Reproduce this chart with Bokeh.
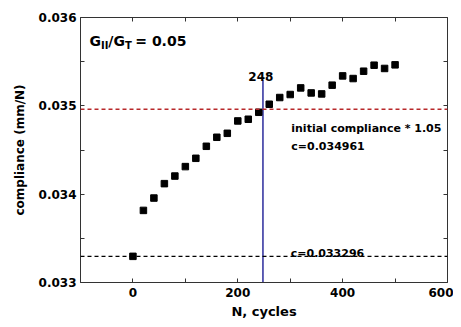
from bokeh.plotting import figure
from bokeh.models import (Range1d, FixedTicker, LinearAxis, Label, NumeralTickFormatter,
                          Span, ColumnDataSource)
from bokeh.embed import file_html
from bokeh.resources import INLINE

# ---- data ----
cycles = [0, 20, 40, 60, 80, 100, 120, 140, 160, 180, 200, 220, 240,
          260, 280, 300, 320, 340, 360, 380, 400, 420, 440, 460, 480, 500]
compliance = [0.033296, 0.033816, 0.033956, 0.034119, 0.034205, 0.034312,
              0.034406, 0.034542, 0.034644, 0.034689, 0.034829, 0.034848,
              0.034927, 0.035018, 0.035094, 0.035128, 0.035203, 0.035146,
              0.035135, 0.035234, 0.035339, 0.035309, 0.035392, 0.035460,
              0.035423, 0.035464]
initial_c = 0.033296
threshold_c = 0.034961
crossing_n = 248
crossing_top = 0.03529

x_ticks = [0, 200, 400, 600]
x_minor = [-100, 100, 300, 500]
y_ticks = [0.033, 0.034, 0.035, 0.036]
y_minor = [0.0335, 0.0345, 0.0355]

FONT = "DejaVu Sans"

p = figure(frame_width=367, frame_height=265, output_backend="svg",
           toolbar_location=None, x_range=Range1d(-100, 600),
           y_range=Range1d(0.033, 0.036),
           min_border_left=80, min_border_right=6, min_border_top=17,
           min_border_bottom=37, background_fill_color="white",
           border_fill_color="white")
p.outline_line_color = None
p.grid.visible = False

def style_axis(ax):
    ax.axis_line_color = "#333333"
    ax.axis_line_width = 1
    ax.major_tick_in = 4
    ax.major_tick_out = 0
    ax.minor_tick_in = 4
    ax.minor_tick_out = 0
    ax.major_tick_line_color = "#333333"
    ax.minor_tick_line_color = "#333333"
    ax.major_label_text_font = FONT
    ax.major_label_text_font_style = "bold"
    ax.major_label_text_font_size = "12px"
    ax.major_label_text_color = "black"
    ax.axis_label_text_font = FONT
    ax.axis_label_text_font_style = "bold"
    ax.axis_label_text_color = "black"

xa = p.xaxis[0]
xa.ticker = FixedTicker(ticks=x_ticks, minor_ticks=x_minor)
style_axis(xa)
xa.axis_label = "N, cycles"
xa.axis_label_text_font_size = "13px"
xa.major_label_standoff = 5
xa.axis_label_standoff = 4

ya = p.yaxis[0]
ya.ticker = FixedTicker(ticks=y_ticks, minor_ticks=y_minor)
ya.formatter = NumeralTickFormatter(format="0.000")
style_axis(ya)
ya.axis_label = "compliance (mm/N)"
ya.axis_label_text_font_size = "12px"
ya.major_label_standoff = 4
ya.axis_label_standoff = 9

top = LinearAxis(ticker=FixedTicker(ticks=[], minor_ticks=x_ticks + x_minor))
style_axis(top)
p.add_layout(top, "above")
right = LinearAxis(ticker=FixedTicker(ticks=[], minor_ticks=y_ticks + y_minor))
style_axis(right)
p.add_layout(right, "right")

# reference lines
p.add_layout(Span(location=threshold_c, dimension="width", line_color="#b8282a",
                  line_dash="4 3", line_width=1.5))
p.add_layout(Span(location=initial_c, dimension="width", line_color="black",
                  line_dash="4 3", line_width=1.3))
p.segment(x0=[crossing_n], y0=[0.033], x1=[crossing_n], y1=[crossing_top],
          line_color="#2b2b9c", line_width=1.5)

src = ColumnDataSource(dict(n=cycles, c=compliance))
p.scatter("n", "c", source=src, marker="square", size=6.5, fill_color="black",
          line_color="black")

def lab(x, y, text, size, align="left"):
    p.add_layout(Label(x=x, y=y, text=text, text_font=FONT, text_font_style="bold",
                       text_font_size=size, text_color="black", text_align=align,
                       text_baseline="alphabetic"))

lab(crossing_n - 4, 0.035336, str(crossing_n), "12px", "center")
lab(302, 0.034746, "initial compliance * 1.05", "11px")
lab(302, 0.034545, "c=%.6f" % threshold_c, "11px")
lab(301, 0.033325, "c=%.6f" % initial_c, "11px")

# G_II/G_T = 0.05 with subscripts
gx = -83
gy = 0.035732
sub_dy = -0.00005
pieces = [("G", 14, 0.0), ("II", 10, sub_dy), ("/G", 14, 0.0), ("T", 10, sub_dy),
          ("= 0.05", 14, 0.0)]
widths_em = {"G": 0.821, "II": 0.744, "/G": 1.186, "T": 0.682 + 0.35}
xscale = 700 / 367.0  # data units per px
cx = gx
for t, fs, dy in pieces:
    lab(cx, gy + dy, t, "%dpx" % fs)
    cx += widths_em.get(t, 0) * fs * xscale

open("out.html", "w").write(file_html(p, INLINE))
